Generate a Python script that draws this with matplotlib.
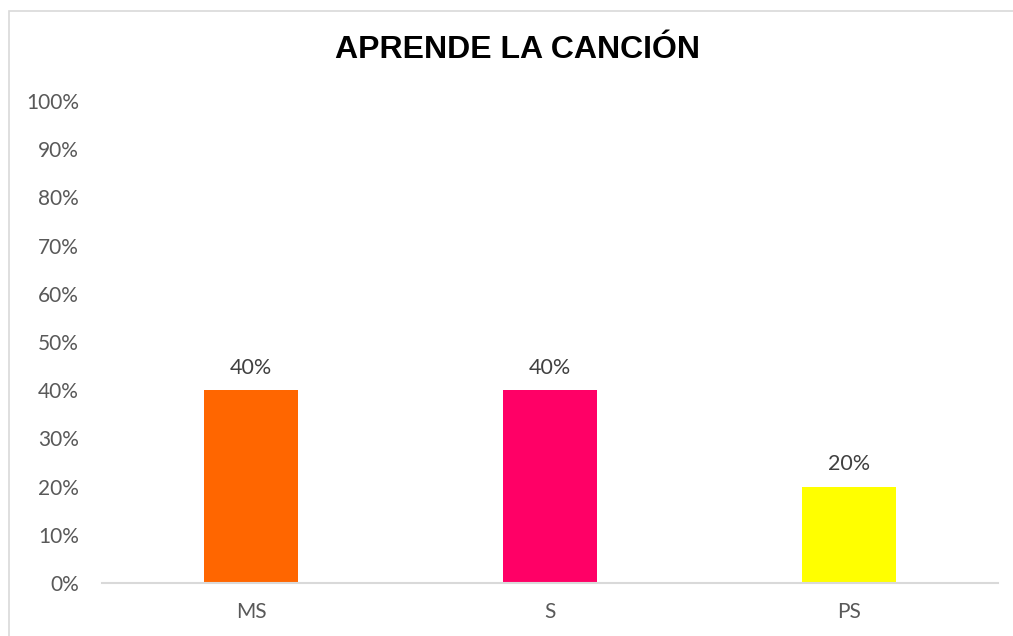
import matplotlib
matplotlib.use("Agg")
import matplotlib.pyplot as plt
from matplotlib.patches import Rectangle
from matplotlib.ticker import PercentFormatter

categories = ["MS", "S", "PS"]
values = [40, 40, 20]
colors = ["#FF6600", "#FF0066", "#FFFF00"]
title = "APRENDE LA CANCIÓN"

plt.rcParams["font.family"] = ["Lato", "DejaVu Sans"]

fig = plt.figure(figsize=(10.13, 6.36), dpi=100)
# cadre du graphique (coupé à droite et en bas)
fig.patches.append(Rectangle((9 / 1013, -0.1), 1.2, 1.1 - 11 / 636,
                             transform=fig.transFigure, fill=False,
                             edgecolor="#d9d9d9", linewidth=1.2))

ax = fig.add_axes([102 / 1013, 1 - 583 / 636, 896 / 1013, 482 / 636])
x = range(len(categories))
bars = ax.bar(x, values, width=0.315, color=colors, zorder=2)

for b, v in zip(bars, values):
    ax.annotate(f"{v}%", (b.get_x() + b.get_width() / 2, v),
                xytext=(0, 9), textcoords="offset points",
                ha="center", va="bottom", fontsize=15.5, color="#404040")

ax.set_xlim(-0.5, len(categories) - 0.5)
ax.set_ylim(0, 100)
ax.set_yticks(range(0, 101, 10))
ax.yaxis.set_major_formatter(PercentFormatter(decimals=0))
ax.set_xticks(list(x))
ax.set_xticklabels(categories)
ax.tick_params(axis="both", length=0, labelsize=15, labelcolor="#595959")
ax.tick_params(axis="y", pad=16.5)
ax.tick_params(axis="x", pad=14)

for s in ["top", "right", "left"]:
    ax.spines[s].set_visible(False)
ax.spines["bottom"].set_color("#d9d9d9")
ax.spines["bottom"].set_linewidth(1.5)

fig.text(517 / 1013, 1 - 50 / 636, title, ha="center", va="center",
         fontsize=23, fontweight="bold", family="Liberation Sans")

fig.savefig("out.png", dpi=100)
